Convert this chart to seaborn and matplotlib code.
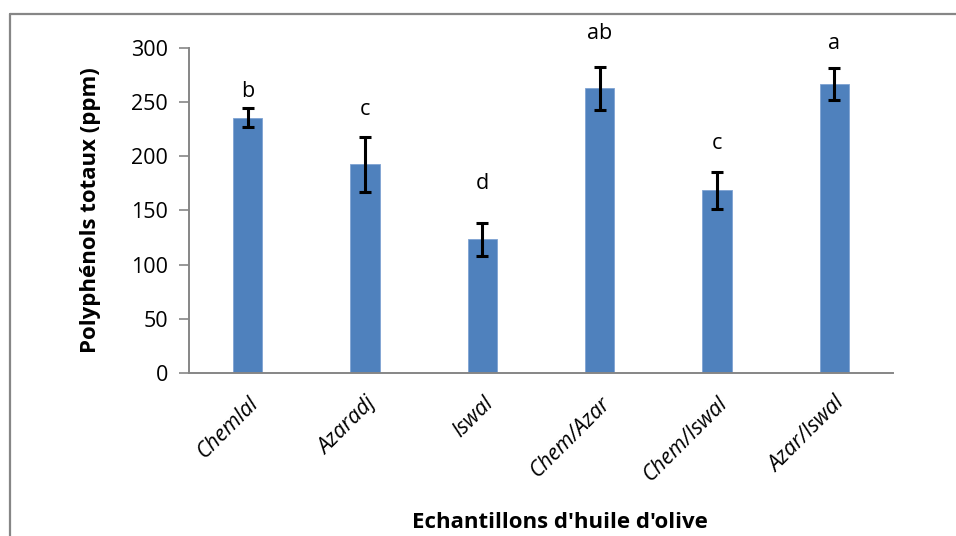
import matplotlib
matplotlib.use("Agg")
import matplotlib.pyplot as plt
from matplotlib.lines import Line2D
import seaborn as sns
import pandas as pd
import numpy as np

categories = ["Chemlal", "Azaradj", "Iswal", "Chem/Azar", "Chem/Iswal", "Azar/Iswal"]
values = [235.5, 192.5, 123.5, 262.5, 168.5, 266.5]
errors = [9, 25, 15, 19.5, 17, 15]
letters = ["b", "c", "d", "ab", "c", "a"]
letter_y = [260, 243, 175, 313, 212, 304]
yticks = [0, 50, 100, 150, 200, 250, 300]

sns.set_theme(style="white")
plt.rcParams['font.family'] = ['Open Sans', 'DejaVu Sans']
plt.rcParams['text.color'] = 'black'
plt.rcParams['axes.labelcolor'] = 'black'
plt.rcParams['xtick.color'] = 'black'
plt.rcParams['ytick.color'] = 'black'

df = pd.DataFrame({"cat": categories, "val": values})

fig = plt.figure(figsize=(9.56, 5.36), dpi=100)
ax = fig.add_axes([189/956, 1 - 373.3/536, (893-189)/956, (373.3-47.7)/536])

bar_color = "#4F81BD"
sns.barplot(data=df, x="cat", y="val", color=bar_color, width=0.25, ax=ax,
            saturation=1, edgecolor="#7FA3D3", linewidth=0.6)
ax.errorbar(np.arange(len(categories)), values, yerr=errors, fmt="none",
            ecolor="black", elinewidth=2.2, capsize=4.5, capthick=2.2, zorder=5)

for i, (lt, ly) in enumerate(zip(letters, letter_y)):
    ax.text(i, ly, lt, ha="center", va="center", fontsize=15.5, color="black")

ax.set_ylim(0, 300)
ax.set_xlim(-0.5, len(categories) - 0.5)
ax.set_yticks(yticks)
ax.set_yticklabels([str(t) for t in yticks], fontsize=15.5)
ax.set_xticks(range(len(categories)))
ax.set_xticklabels(categories, rotation=45, ha="right", rotation_mode="anchor",
                   fontsize=15.5, style="italic")
ax.tick_params(axis="y", length=7, width=1.2, color="#868686", labelcolor="black", left=True, pad=8)
ax.tick_params(axis="x", length=0, pad=14, labelcolor="black")

for s in ["top", "right"]:
    ax.spines[s].set_visible(False)
for s in ["left", "bottom"]:
    ax.spines[s].set_color("#868686")
    ax.spines[s].set_linewidth(1.4)

ax.set_ylabel("Polyphénols totaux (ppm)", fontsize=16, fontweight="bold", labelpad=22,
              color="black")
ax.set_xlabel("")
fig.text(0.5 + (560 - 478) / 956, 1 - 522/536, "Echantillons d'huile d'olive",
         ha="center", va="center", fontsize=16, fontweight="bold", color="black")

# outer frame
fig.add_artist(Line2D([10/956, 1], [1 - 14/536, 1 - 14/536], color="#868686", lw=1.6,
                      transform=fig.transFigure))
fig.add_artist(Line2D([10/956, 10/956], [0, 1 - 14/536], color="#868686", lw=1.6,
                      transform=fig.transFigure))

fig.savefig("out.png", dpi=100)
